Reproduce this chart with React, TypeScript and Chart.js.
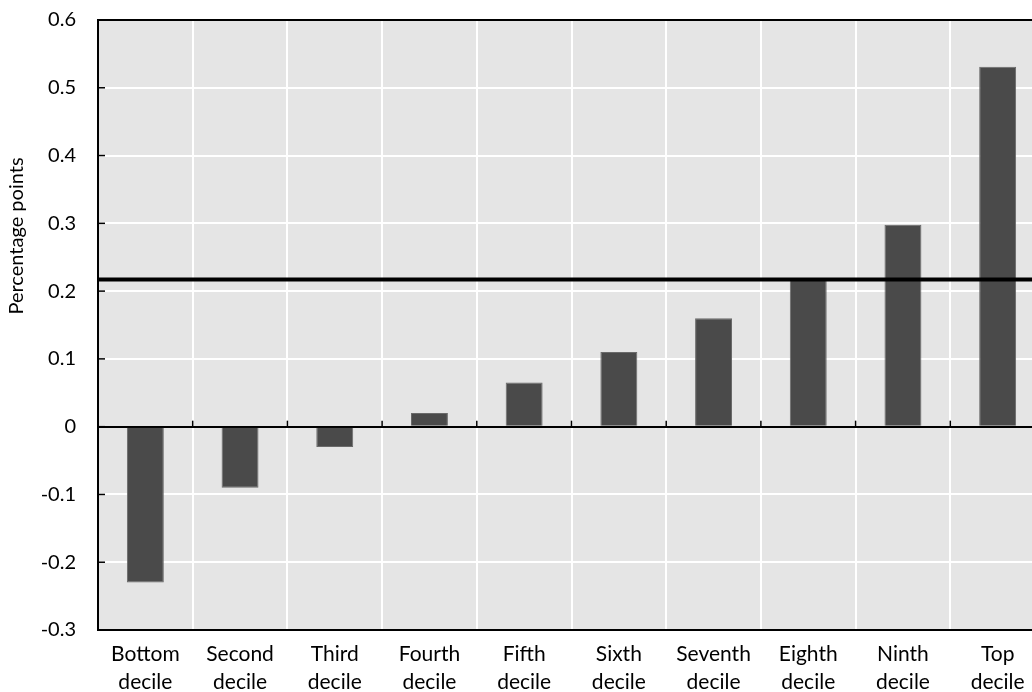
import React, { useEffect, useRef } from "react";
import { Chart, registerables } from "chart.js";

Chart.register(...registerables);

const categories: string[][] = [
  ["Bottom", "decile"], ["Second", "decile"], ["Third", "decile"], ["Fourth", "decile"],
  ["Fifth", "decile"], ["Sixth", "decile"], ["Seventh", "decile"], ["Eighth", "decile"],
  ["Ninth", "decile"], ["Top", "decile"],
];
const values: number[] = [-0.23, -0.09, -0.03, 0.02, 0.065, 0.11, 0.16, 0.217, 0.298, 0.531];
const averageLine = 0.217;
const yTicks: number[] = [-0.3, -0.2, -0.1, 0, 0.1, 0.2, 0.3, 0.4, 0.5, 0.6];
const yTitle = "Percentage points";

const FONT = "Lato, 'Open Sans', sans-serif";

const decorPlugin = {
  id: "decor",
  beforeDraw(chart: any) {
    const { ctx, chartArea } = chart;
    ctx.save();
    ctx.fillStyle = "#e5e5e5";
    ctx.fillRect(chartArea.left, chartArea.top, chartArea.right - chartArea.left, chartArea.bottom - chartArea.top);
    ctx.restore();
  },
  afterDraw(chart: any) {
    const { ctx, chartArea, scales } = chart;
    const y = scales.y;
    const x = scales.x;
    ctx.save();
    // average line
    const ya = y.getPixelForValue(averageLine);
    ctx.strokeStyle = "#000";
    ctx.lineWidth = 4;
    ctx.beginPath();
    ctx.moveTo(chartArea.left, ya);
    ctx.lineTo(chartArea.right, ya);
    ctx.stroke();
    // inner y ticks
    ctx.lineWidth = 1.5;
    y.ticks.forEach((t: any) => {
      const py = y.getPixelForValue(t.value);
      ctx.beginPath();
      ctx.moveTo(chartArea.left, py);
      ctx.lineTo(chartArea.left + 7, py);
      ctx.stroke();
    });
    // x ticks at category boundaries on zero line
    const y0 = y.getPixelForValue(0);
    for (let i = 1; i < categories.length; i++) {
      const px = (x.getPixelForValue(i - 1) + x.getPixelForValue(i)) / 2;
      ctx.beginPath();
      ctx.moveTo(px, y0);
      ctx.lineTo(px, y0 - 6);
      ctx.stroke();
    }
    // y title
    ctx.translate(17, 236);
    ctx.rotate(-Math.PI / 2);
    ctx.fillStyle = "#000";
    ctx.font = `20px ${FONT}`;
    ctx.textAlign = "center";
    ctx.textBaseline = "middle";
    ctx.fillText(yTitle, 0, 0);
    ctx.restore();
  },
};

export default function App() {
  const ref = useRef<HTMLCanvasElement>(null);
  useEffect(() => {
    const chart = new Chart(ref.current as HTMLCanvasElement, {
      type: "bar",
      data: {
        labels: categories,
        datasets: [
          {
            data: values,
            backgroundColor: "#4a4a4a",
            borderColor: "#6a6a6a",
            borderWidth: 1,
            barPercentage: 0.39,
            categoryPercentage: 1,
          },
        ],
      },
      options: {
        animation: false,
        responsive: false,
        maintainAspectRatio: false,
        layout: { padding: { top: 0, right: 15, left: 0, bottom: 0 } },
        plugins: { legend: { display: false }, tooltip: { enabled: false } },
        scales: {
          x: {
            offset: true,
            grid: { color: "#ffffff", lineWidth: 2, offset: true, drawTicks: false },
            border: { color: "#000", width: 2 },
            ticks: { color: "#000", font: { family: FONT, size: 21, lineHeight: 1.3 }, padding: 11, maxRotation: 0, autoSkip: false },
            afterFit: (s: any) => { s.height = 62; },
          },
          y: {
            min: -0.3,
            max: 0.6,
            afterBuildTicks: (s: any) => { s.ticks = yTicks.map((v) => ({ value: v })); },
            grid: {
              drawTicks: false,
              color: (c: any) => (c.tick && (c.tick.value === 0 || Math.abs(c.tick.value - 0.6) < 1e-9) ? "#000" : "#ffffff"),
              lineWidth: 2,
            },
            border: { color: "#000", width: 2 },
            ticks: {
              color: "#000",
              font: { family: FONT, size: 20 },
              padding: 22,
              callback: (v: any) => (Math.round(Number(v) * 10) / 10).toString(),
            },
            afterFit: (s: any) => { s.width = 98; s.paddingTop = 20; s.paddingBottom = 0; },
          },
        },
      },
      plugins: [decorPlugin],
    });
    return () => chart.destroy();
  }, []);
  return (
    <div style={{ position: "fixed", left: 0, top: 0, width: 1032, height: 692, overflow: "hidden", background: "#fff" }}>
      <canvas ref={ref} width={1060} height={692} style={{ display: "block" }} />
    </div>
  );
}
